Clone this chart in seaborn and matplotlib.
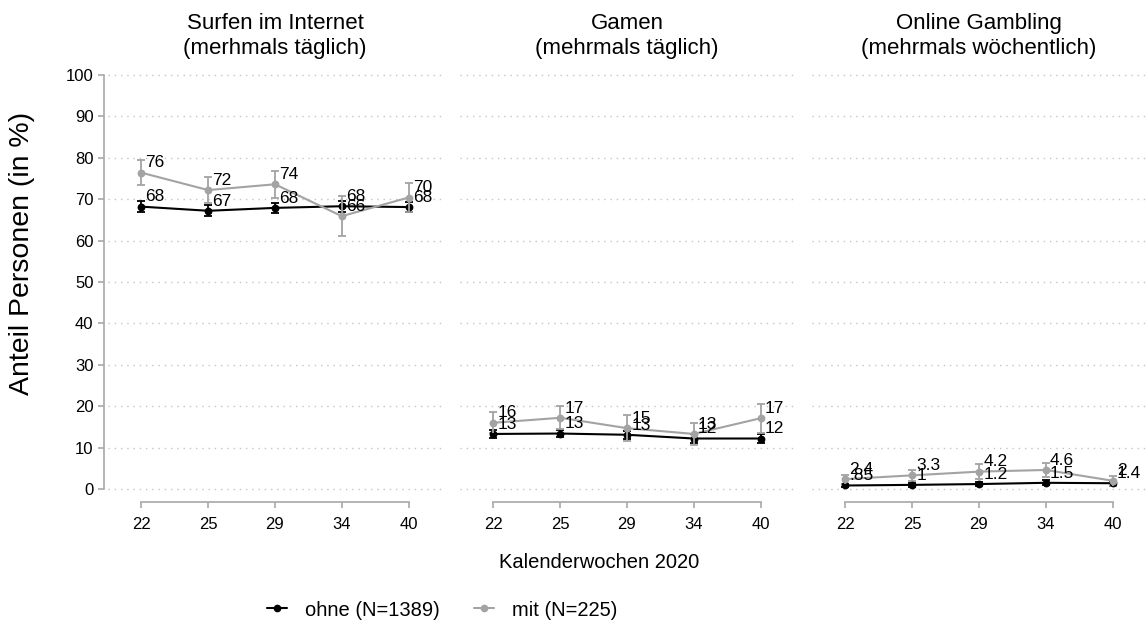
import numpy as np
import pandas as pd
import matplotlib
matplotlib.use("Agg")
import matplotlib.pyplot as plt
import seaborn as sns
from matplotlib.lines import Line2D

# ---------------- data ----------------
weeks = ["22", "25", "29", "34", "40"]
panel_titles = ["Surfen im Internet\n(merhmals täglich)",
                "Gamen\n(mehrmals täglich)",
                "Online Gambling\n(mehrmals wöchentlich)"]
groups = ["ohne (N=1389)", "mit (N=225)"]

surf_ohne = [68.2, 67.2, 67.9, 68.3, 68.1]
surf_ohne_err = [1.3, 1.3, 1.3, 1.3, 1.3]
surf_mit = [76.4, 72.2, 73.6, 65.9, 70.4]
surf_mit_err = [3.0, 3.2, 3.2, 4.8, 3.5]

gamen_ohne = [13.3, 13.4, 13.1, 12.2, 12.2]
gamen_ohne_err = [1.0, 0.9, 1.0, 1.1, 1.1]
gamen_mit = [16.0, 17.2, 14.7, 13.3, 17.1]
gamen_mit_err = [2.5, 2.8, 3.2, 2.7, 3.5]

gamb_ohne = [0.85, 1.0, 1.2, 1.5, 1.4]
gamb_ohne_err = [0.4, 0.5, 0.5, 0.6, 0.6]
gamb_mit = [2.4, 3.3, 4.2, 4.6, 2.0]
gamb_mit_err = [1.1, 1.3, 1.8, 1.6, 1.2]

series = [
    (surf_ohne, surf_ohne_err, surf_mit, surf_mit_err),
    (gamen_ohne, gamen_ohne_err, gamen_mit, gamen_mit_err),
    (gamb_ohne, gamb_ohne_err, gamb_mit, gamb_mit_err),
]

colors = ["#000000", "#a3a3a3"]

# ---------------- style ----------------
sns.set_theme(style="white")
plt.rcParams["font.family"] = ["Liberation Sans", "DejaVu Sans"]
plt.rcParams["text.color"] = "black"

fig = plt.figure(figsize=(11.48, 6.26), dpi=100)

W, H = 1148, 626
ax_lefts = [108, 460, 812]
ax_w = 334
top_px, bot_px = 66.7, 497.3

spine_col = "#a8a8a8"
grid_col = "#c4c4c4"


def fmt(v):
    s = "{:.2g}".format(v)
    if s.startswith("0."):
        s = s[1:]
    return s


for i, (title, (o, oe, m, me)) in enumerate(zip(panel_titles, series)):
    ax = fig.add_axes([ax_lefts[i] / W, (H - bot_px) / H, ax_w / W, (bot_px - top_px) / H])
    d = pd.DataFrame({
        "week": weeks * 2,
        "value": o + m,
        "group": [groups[0]] * 5 + [groups[1]] * 5,
    })
    # dotted gridlines
    for yv in range(0, 101, 10):
        ax.axhline(yv, color=grid_col, lw=1.0, ls=(0, (1, 3.5)), zorder=0)

    for gi, (vals, errs) in enumerate([(o, oe), (m, me)]):
        ax.errorbar(np.arange(len(weeks)), vals, yerr=errs, fmt="none",
                    ecolor=colors[gi], elinewidth=1.3, capsize=3.2, capthick=1.3,
                    zorder=2 + gi * 2, clip_on=False)

    sns.pointplot(data=d, x="week", y="value", hue="group", order=weeks,
                  hue_order=groups, palette=colors, errorbar=None, markers="o",
                  dodge=False, legend=False, ax=ax, markersize=4.5, linewidth=1.5)
    for coll in ax.collections:
        coll.set_clip_on(False)
    for ln in ax.lines:
        ln.set_clip_on(False)
        if matplotlib.colors.to_hex(ln.get_color()) == "#a3a3a3":
            ln.set_zorder(5)
        else:
            ln.set_zorder(3)

    for gi, vals in enumerate([o, m]):
        for xi, v in enumerate(vals):
            ax.annotate(fmt(v), (xi, v), xytext=(3, 3.8), textcoords="offset points",
                        ha="left", va="baseline", fontsize=12.5, color="black",
                        zorder=10, annotation_clip=False)

    ax.set_xlim(-0.5, len(weeks) - 0.5)
    ax.set_ylim(-2, 102)
    ax.set_yticks(range(0, 101, 10))
    ax.set_xticks(range(len(weeks)))
    ax.set_xticklabels(weeks)
    ax.set_xlabel("")
    ax.set_ylabel("")
    ax.grid(False)
    ax.set_facecolor("white")
    for s in ["top", "right"]:
        ax.spines[s].set_visible(False)
    ax.spines["bottom"].set_position(("outward", 3.4))
    ax.spines["bottom"].set_bounds(0, len(weeks) - 1)
    ax.spines["bottom"].set_color(spine_col)
    ax.spines["bottom"].set_linewidth(1.2)
    ax.tick_params(axis="x", direction="out", length=4.5, width=1.2, color=spine_col,
                   labelsize=12, labelcolor="black", pad=6, bottom=True)
    if i == 0:
        ax.spines["left"].set_position(("outward", 2.9))
        ax.spines["left"].set_bounds(0, 100)
        ax.spines["left"].set_color(spine_col)
        ax.spines["left"].set_linewidth(1.2)
        ax.tick_params(axis="y", direction="out", length=4.5, width=1.2, color=spine_col,
                       labelsize=12, labelcolor="black", pad=3, left=True)
    else:
        ax.spines["left"].set_visible(False)
        ax.tick_params(axis="y", left=False, labelleft=False)
    ax.set_title(title, fontsize=16, color="black", pad=9, linespacing=1.25)

fig.text(22 / W, 1 - 253 / H, "Anteil Personen (in %)", rotation=90, ha="center",
         va="center", fontsize=20.5, color="black")
fig.text(599 / W, 1 - 563 / H, "Kalenderwochen 2020", ha="center", va="center",
         fontsize=14.5, color="black")

handles = [Line2D([0], [0], color=c, marker="o", markersize=4.5, lw=1.5) for c in colors]
leg = fig.legend(handles, groups, loc="center", bbox_to_anchor=(442 / W, 1 - 610 / H), ncol=2,
                 frameon=False, fontsize=14.5, handlelength=1.0, columnspacing=1.7,
                 handletextpad=0.9)
for t in leg.get_texts():
    t.set_color("black")

fig.savefig("out.png", dpi=100, facecolor="white")
